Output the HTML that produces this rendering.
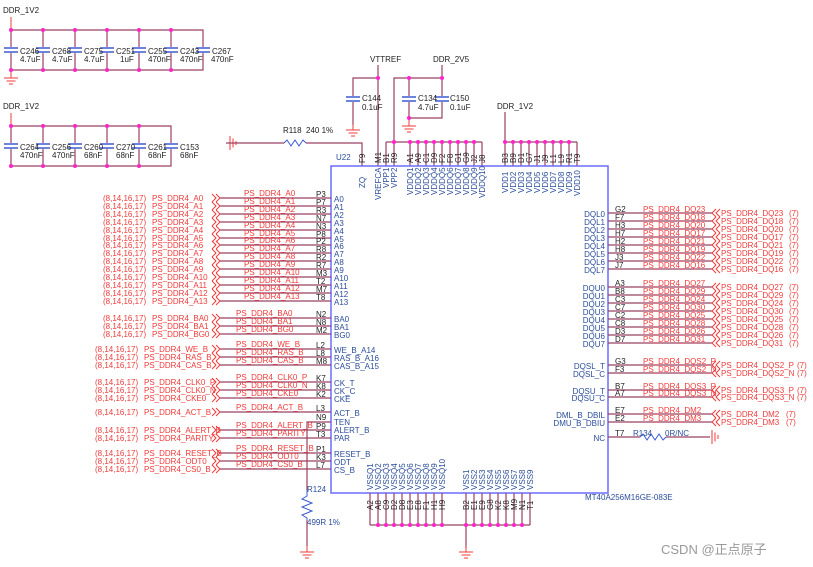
<!DOCTYPE html>
<html><head><meta charset="utf-8"><style>
body{margin:0;background:#fff}
svg{display:block;font-family:"Liberation Sans",Arial,sans-serif}
.r{fill:#f03a3a;font-size:8px}
.b{fill:#2b4d9a;font-size:8px}
.k{fill:#222;font-size:8px}
.w{stroke:#9b4060;stroke-width:1.2;fill:none}
.rs{stroke:#f03a3a;stroke-width:1;fill:none}
.bx{stroke:#6b6bff;stroke-width:1.5;fill:none}
.d{fill:#ff22cc}
.cp{stroke:#3a5ad0;stroke-width:1.5}
</style></head><body>
<svg width="813" height="567" viewBox="0 0 813 567">
<defs>
<g id="gnd"><line x1="0" y1="0" x2="0" y2="6" class="rs"/><line x1="-7" y1="6" x2="7" y2="6" class="rs"/><line x1="-4.5" y1="9" x2="4.5" y2="9" class="rs"/><line x1="-2" y1="12" x2="2" y2="12" class="rs"/></g>
<g id="chL"><polyline points="0,-4 4,0 0,4" class="rs"/><polyline points="4,-4 8,0 4,4" class="rs"/></g>
<g id="chR"><polyline points="8,-4 4,0 8,4" class="rs"/><polyline points="4,-4 0,0 4,4" class="rs"/></g>
<g id="cap"><line x1="-7" y1="-2" x2="7" y2="-2" class="cp"/><line x1="-7" y1="2" x2="7" y2="2" class="cp"/></g>
</defs>

<!-- top-left cap bank 1 -->
<text x="3" y="13" class="k">DDR_1V2</text>
<line x1="11" y1="17" x2="11" y2="30" class="rs"/>
<path d="M11 30H203V70H11Z" class="w"/>
<g class="w"><line x1="43" y1="30" x2="43" y2="70"/><line x1="75" y1="30" x2="75" y2="70"/><line x1="107" y1="30" x2="107" y2="70"/><line x1="139" y1="30" x2="139" y2="70"/><line x1="171" y1="30" x2="171" y2="70"/></g>
<g fill="#fff"><rect x="3" y="47" width="210" height="6"/></g>
<use href="#cap" x="11" y="50"/><use href="#cap" x="43" y="50"/><use href="#cap" x="75" y="50"/><use href="#cap" x="107" y="50"/><use href="#cap" x="139" y="50"/><use href="#cap" x="171" y="50"/><use href="#cap" x="203" y="50"/>
<g class="d"><circle cx="11" cy="30" r="2"/><circle cx="43" cy="30" r="2"/><circle cx="75" cy="30" r="2"/><circle cx="107" cy="30" r="2"/><circle cx="139" cy="30" r="2"/><circle cx="171" cy="30" r="2"/><circle cx="11" cy="70" r="2"/><circle cx="43" cy="70" r="2"/><circle cx="75" cy="70" r="2"/><circle cx="107" cy="70" r="2"/><circle cx="139" cy="70" r="2"/><circle cx="171" cy="70" r="2"/></g>
<g class="k"><text x="20" y="54">C246</text><text x="52" y="54">C268</text><text x="84" y="54">C275</text><text x="116" y="54">C251</text><text x="148" y="54">C255</text><text x="180" y="54">C243</text><text x="212" y="54">C267</text>
<text x="20" y="62">4.7uF</text><text x="52" y="62">4.7uF</text><text x="84" y="62">4.7uF</text><text x="120" y="62">1uF</text><text x="148" y="62">470nF</text><text x="180" y="62">470nF</text><text x="211" y="62">470nF</text></g>
<use href="#gnd" x="11" y="72"/>

<!-- cap bank 2 -->
<text x="3" y="109" class="k">DDR_1V2</text>
<line x1="11" y1="113" x2="11" y2="126" class="rs"/>
<path d="M11 126H171V166H11Z" class="w"/>
<g class="w"><line x1="43" y1="126" x2="43" y2="166"/><line x1="75" y1="126" x2="75" y2="166"/><line x1="107" y1="126" x2="107" y2="166"/><line x1="139" y1="126" x2="139" y2="166"/></g>
<rect x="3" y="143" width="175" height="6" fill="#fff"/>
<use href="#cap" x="11" y="146"/><use href="#cap" x="43" y="146"/><use href="#cap" x="75" y="146"/><use href="#cap" x="107" y="146"/><use href="#cap" x="139" y="146"/><use href="#cap" x="171" y="146"/>
<g class="d"><circle cx="11" cy="126" r="2"/><circle cx="43" cy="126" r="2"/><circle cx="75" cy="126" r="2"/><circle cx="107" cy="126" r="2"/><circle cx="139" cy="126" r="2"/><circle cx="11" cy="166" r="2"/><circle cx="43" cy="166" r="2"/><circle cx="75" cy="166" r="2"/><circle cx="107" cy="166" r="2"/><circle cx="139" cy="166" r="2"/></g>
<g class="k"><text x="20" y="150">C264</text><text x="52" y="150">C256</text><text x="84" y="150">C260</text><text x="116" y="150">C270</text><text x="148" y="150">C261</text><text x="180" y="150">C153</text>
<text x="20" y="158">470nF</text><text x="52" y="158">470nF</text><text x="84" y="158">68nF</text><text x="116" y="158">68nF</text><text x="148" y="158">68nF</text><text x="180" y="158">68nF</text></g>

<!-- R118 / ZQ -->
<g transform="translate(226,143) rotate(90)"><line x1="0" y1="0" x2="0" y2="-4" class="rs"/><line x1="-7" y1="-4" x2="7" y2="-4" class="rs"/><line x1="-4.5" y1="-7" x2="4.5" y2="-7" class="rs"/><line x1="-2" y1="-10" x2="2" y2="-10" class="rs"/></g>
<line x1="226" y1="143" x2="284" y2="143" class="w"/>
<polyline points="284,143 287,140 291,146 295,140 299,146 303,140 306,143" stroke="#3a5ad0" fill="none"/>
<polyline points="306,143 362,143 362,166" class="w"/>
<text x="283" y="133" class="k">R118</text><text x="306" y="133" class="k">240 1%</text>

<!-- VTTREF / C144 -->
<text x="370" y="62" class="k">VTTREF</text>
<line x1="378" y1="65" x2="378" y2="166" class="w"/>
<polyline points="378,78 353,78 353,125" class="w"/>
<rect x="347" y="96" width="12" height="6" fill="#fff"/>
<use href="#cap" x="353" y="99"/>
<use href="#gnd" x="353" y="124"/>
<text x="362" y="101" class="k">C144</text><text x="362" y="110" class="k">0.1uF</text>
<circle cx="378" cy="78" r="2" class="d"/>

<!-- DDR_2V5 -->
<text x="433" y="62" class="k">DDR_2V5</text>
<polyline points="442,65 442,118 409,118 409,78 394,78 394,166" class="w"/>
<line x1="409" y1="78" x2="442" y2="78" class="w"/>
<rect x="403" y="96" width="45" height="6" fill="#fff"/>
<use href="#cap" x="409" y="99"/><use href="#cap" x="442" y="99"/>
<use href="#gnd" x="409" y="120"/>
<text x="418" y="101" class="k">C134</text><text x="418" y="110" class="k">4.7uF</text>
<text x="450" y="101" class="k">C150</text><text x="450" y="110" class="k">0.1uF</text>
<g class="d"><circle cx="409" cy="78" r="2"/><circle cx="442" cy="78" r="2"/><circle cx="409" cy="118" r="2"/></g>

<!-- top buses -->
<line x1="394" y1="142" x2="482" y2="142" class="w"/>
<line x1="386" y1="142" x2="394" y2="142" class="w"/><line x1="386" y1="142" x2="386" y2="166" class="w"/>
<text x="497" y="109" class="k">DDR_1V2</text>
<line x1="505" y1="112" x2="505" y2="142" class="w"/>
<line x1="505" y1="142" x2="577" y2="142" class="w"/>
<g class="w">
<line x1="410" y1="142" x2="410" y2="166"/><line x1="418" y1="142" x2="418" y2="166"/><line x1="426" y1="142" x2="426" y2="166"/><line x1="434" y1="142" x2="434" y2="166"/><line x1="442" y1="142" x2="442" y2="166"/><line x1="450" y1="142" x2="450" y2="166"/><line x1="458" y1="142" x2="458" y2="166"/><line x1="466" y1="142" x2="466" y2="166"/><line x1="474" y1="142" x2="474" y2="166"/><line x1="482" y1="142" x2="482" y2="166"/>
<line x1="505" y1="142" x2="505" y2="166"/><line x1="513" y1="142" x2="513" y2="166"/><line x1="521" y1="142" x2="521" y2="166"/><line x1="529" y1="142" x2="529" y2="166"/><line x1="537" y1="142" x2="537" y2="166"/><line x1="545" y1="142" x2="545" y2="166"/><line x1="553" y1="142" x2="553" y2="166"/><line x1="561" y1="142" x2="561" y2="166"/><line x1="569" y1="142" x2="569" y2="166"/><line x1="577" y1="142" x2="577" y2="166"/>
</g>
<g class="d"><circle cx="394" cy="142" r="2"/><circle cx="410" cy="142" r="2"/><circle cx="418" cy="142" r="2"/><circle cx="426" cy="142" r="2"/><circle cx="434" cy="142" r="2"/><circle cx="442" cy="142" r="2"/><circle cx="450" cy="142" r="2"/><circle cx="458" cy="142" r="2"/><circle cx="466" cy="142" r="2"/><circle cx="474" cy="142" r="2"/><circle cx="505" cy="142" r="2"/><circle cx="513" cy="142" r="2"/><circle cx="521" cy="142" r="2"/><circle cx="529" cy="142" r="2"/><circle cx="537" cy="142" r="2"/><circle cx="545" cy="142" r="2"/><circle cx="553" cy="142" r="2"/><circle cx="561" cy="142" r="2"/><circle cx="569" cy="142" r="2"/></g>
<g class="k" font-size="7">
<text transform="translate(365,163) rotate(-90)">F9</text><text transform="translate(381,163) rotate(-90)">M1</text><text transform="translate(389,163) rotate(-90)">B1</text><text transform="translate(397,163) rotate(-90)">R9</text>
<text transform="translate(413,163) rotate(-90)">A1</text><text transform="translate(421,163) rotate(-90)">A9</text><text transform="translate(429,163) rotate(-90)">C1</text><text transform="translate(437,163) rotate(-90)">D9</text><text transform="translate(445,163) rotate(-90)">F2</text><text transform="translate(453,163) rotate(-90)">F8</text><text transform="translate(461,163) rotate(-90)">G1</text><text transform="translate(469,163) rotate(-90)">G9</text><text transform="translate(477,163) rotate(-90)">J2</text><text transform="translate(485,163) rotate(-90)">J8</text>
<text transform="translate(508,163) rotate(-90)">B3</text><text transform="translate(516,163) rotate(-90)">B9</text><text transform="translate(524,163) rotate(-90)">D1</text><text transform="translate(532,163) rotate(-90)">G7</text><text transform="translate(540,163) rotate(-90)">J1</text><text transform="translate(548,163) rotate(-90)">J9</text><text transform="translate(556,163) rotate(-90)">L1</text><text transform="translate(564,163) rotate(-90)">L9</text><text transform="translate(572,163) rotate(-90)">R1</text><text transform="translate(580,163) rotate(-90)">T9</text>
</g>
<text x="336" y="160" class="b">U22</text>

<!-- chip box -->
<rect x="331" y="166" width="277" height="327" class="bx"/>
<g class="b" font-size="7">
<text transform="translate(365,188) rotate(-90)">ZQ</text><text transform="translate(381,200) rotate(-90)">VREFCA</text><text transform="translate(389,188) rotate(-90)">VPP1</text><text transform="translate(397,188) rotate(-90)">VPP2</text>
<text transform="translate(413,195) rotate(-90)">VDDQ1</text><text transform="translate(421,195) rotate(-90)">VDDQ2</text><text transform="translate(429,195) rotate(-90)">VDDQ3</text><text transform="translate(437,195) rotate(-90)">VDDQ4</text><text transform="translate(445,195) rotate(-90)">VDDQ5</text><text transform="translate(453,195) rotate(-90)">VDDQ6</text><text transform="translate(461,195) rotate(-90)">VDDQ7</text><text transform="translate(469,195) rotate(-90)">VDDQ8</text><text transform="translate(477,195) rotate(-90)">VDDQ9</text><text transform="translate(485,198) rotate(-90)">VDDQ10</text>
<text transform="translate(508,193) rotate(-90)">VDD1</text><text transform="translate(516,193) rotate(-90)">VDD2</text><text transform="translate(524,193) rotate(-90)">VDD3</text><text transform="translate(532,193) rotate(-90)">VDD4</text><text transform="translate(540,193) rotate(-90)">VDD5</text><text transform="translate(548,193) rotate(-90)">VDD6</text><text transform="translate(556,193) rotate(-90)">VDD7</text><text transform="translate(564,193) rotate(-90)">VDD8</text><text transform="translate(572,193) rotate(-90)">VDD9</text><text transform="translate(580,196) rotate(-90)">VDD10</text>
<text transform="translate(373,490) rotate(-90)">VSSQ1</text><text transform="translate(381,490) rotate(-90)">VSSQ2</text><text transform="translate(389,490) rotate(-90)">VSSQ3</text><text transform="translate(397,490) rotate(-90)">VSSQ4</text><text transform="translate(405,490) rotate(-90)">VSSQ5</text><text transform="translate(413,490) rotate(-90)">VSSQ6</text><text transform="translate(421,490) rotate(-90)">VSSQ7</text><text transform="translate(429,490) rotate(-90)">VSSQ8</text><text transform="translate(437,490) rotate(-90)">VSSQ9</text><text transform="translate(445,490) rotate(-90)">VSSQ10</text>
<text transform="translate(469,490) rotate(-90)">VSS1</text><text transform="translate(477,490) rotate(-90)">VSS2</text><text transform="translate(485,490) rotate(-90)">VSS3</text><text transform="translate(493,490) rotate(-90)">VSS4</text><text transform="translate(501,490) rotate(-90)">VSS5</text><text transform="translate(509,490) rotate(-90)">VSS6</text><text transform="translate(517,490) rotate(-90)">VSS7</text><text transform="translate(525,490) rotate(-90)">VSS8</text><text transform="translate(533,490) rotate(-90)">VSS9</text>
</g>
<g class="w">
<line x1="370" y1="493" x2="370" y2="525"/><line x1="378" y1="493" x2="378" y2="525"/><line x1="386" y1="493" x2="386" y2="525"/><line x1="394" y1="493" x2="394" y2="525"/><line x1="402" y1="493" x2="402" y2="525"/><line x1="410" y1="493" x2="410" y2="525"/><line x1="418" y1="493" x2="418" y2="525"/><line x1="426" y1="493" x2="426" y2="525"/><line x1="434" y1="493" x2="434" y2="525"/><line x1="442" y1="493" x2="442" y2="525"/>
<line x1="466" y1="493" x2="466" y2="548"/><line x1="474" y1="493" x2="474" y2="525"/><line x1="482" y1="493" x2="482" y2="525"/><line x1="490" y1="493" x2="490" y2="525"/><line x1="498" y1="493" x2="498" y2="525"/><line x1="506" y1="493" x2="506" y2="525"/><line x1="514" y1="493" x2="514" y2="525"/><line x1="522" y1="493" x2="522" y2="525"/><line x1="530" y1="493" x2="530" y2="525"/>
<line x1="370" y1="525" x2="530" y2="525"/>
</g>
<g class="d"><circle cx="378" cy="525" r="2"/><circle cx="386" cy="525" r="2"/><circle cx="394" cy="525" r="2"/><circle cx="402" cy="525" r="2"/><circle cx="410" cy="525" r="2"/><circle cx="418" cy="525" r="2"/><circle cx="426" cy="525" r="2"/><circle cx="434" cy="525" r="2"/><circle cx="442" cy="525" r="2"/><circle cx="466" cy="525" r="2"/><circle cx="474" cy="525" r="2"/><circle cx="482" cy="525" r="2"/><circle cx="490" cy="525" r="2"/><circle cx="498" cy="525" r="2"/><circle cx="506" cy="525" r="2"/><circle cx="514" cy="525" r="2"/><circle cx="522" cy="525" r="2"/></g>
<g class="k" font-size="7">
<text transform="translate(373,510) rotate(-90)">A2</text><text transform="translate(381,510) rotate(-90)">A8</text><text transform="translate(389,510) rotate(-90)">C9</text><text transform="translate(397,510) rotate(-90)">D2</text><text transform="translate(405,510) rotate(-90)">D8</text><text transform="translate(413,510) rotate(-90)">E3</text><text transform="translate(421,510) rotate(-90)">E8</text><text transform="translate(429,510) rotate(-90)">F1</text><text transform="translate(437,510) rotate(-90)">H1</text><text transform="translate(445,510) rotate(-90)">H9</text>
<text transform="translate(469,510) rotate(-90)">B2</text><text transform="translate(477,510) rotate(-90)">E1</text><text transform="translate(485,510) rotate(-90)">E9</text><text transform="translate(493,510) rotate(-90)">G8</text><text transform="translate(501,510) rotate(-90)">K2</text><text transform="translate(509,510) rotate(-90)">K8</text><text transform="translate(517,510) rotate(-90)">M9</text><text transform="translate(525,510) rotate(-90)">N1</text><text transform="translate(533,510) rotate(-90)">T1</text>
</g>
<use href="#gnd" x="466" y="546"/>
<text x="585" y="500" class="b" font-size="7.5">MT40A256M16GE-083E</text>

<!-- TEN / R124 -->
<polyline points="331,422 307,422 307,490" class="w"/>
<polyline points="307,490 307,496 302,499 312,503 302,507 312,511 302,515 307,518 307,520" stroke="#3a5ad0" fill="none"/>
<line x1="307" y1="520" x2="307" y2="546" class="w"/>
<use href="#gnd" x="307" y="546"/>
<text x="307" y="492" class="b" font-size="7">R124</text><text x="307" y="525" class="b" font-size="7">499R 1%</text>
<text x="316" y="420" class="k" font-size="7.5">N9</text>

<!-- left signal rows -->
<g class="w">
<line x1="220" y1="198" x2="331" y2="198"/><line x1="220" y1="206" x2="331" y2="206"/><line x1="220" y1="214" x2="331" y2="214"/><line x1="220" y1="222" x2="331" y2="222"/><line x1="220" y1="230" x2="331" y2="230"/><line x1="220" y1="238" x2="331" y2="238"/><line x1="220" y1="245" x2="331" y2="245"/><line x1="220" y1="253" x2="331" y2="253"/><line x1="220" y1="261" x2="331" y2="261"/><line x1="220" y1="269" x2="331" y2="269"/><line x1="220" y1="277" x2="331" y2="277"/><line x1="220" y1="285" x2="331" y2="285"/><line x1="220" y1="293" x2="331" y2="293"/><line x1="220" y1="301" x2="331" y2="301"/>
<line x1="220" y1="318" x2="331" y2="318"/><line x1="220" y1="326" x2="331" y2="326"/><line x1="220" y1="334" x2="331" y2="334"/>
<line x1="220" y1="349" x2="331" y2="349"/><line x1="220" y1="357" x2="331" y2="357"/><line x1="220" y1="365" x2="331" y2="365"/>
<line x1="220" y1="382" x2="331" y2="382"/><line x1="220" y1="390" x2="331" y2="390"/><line x1="220" y1="398" x2="331" y2="398"/>
<line x1="220" y1="412" x2="331" y2="412"/>
<line x1="220" y1="430" x2="331" y2="430"/><line x1="220" y1="438" x2="331" y2="438"/>
<line x1="220" y1="453" x2="331" y2="453"/><line x1="220" y1="461" x2="331" y2="461"/><line x1="220" y1="469" x2="331" y2="469"/>
</g>
<g>
<use href="#chL" x="212" y="198"/><use href="#chL" x="212" y="206"/><use href="#chL" x="212" y="214"/><use href="#chL" x="212" y="222"/><use href="#chL" x="212" y="230"/><use href="#chL" x="212" y="238"/><use href="#chL" x="212" y="245"/><use href="#chL" x="212" y="253"/><use href="#chL" x="212" y="261"/><use href="#chL" x="212" y="269"/><use href="#chL" x="212" y="277"/><use href="#chL" x="212" y="285"/><use href="#chL" x="212" y="293"/><use href="#chL" x="212" y="301"/>
<use href="#chL" x="212" y="318"/><use href="#chL" x="212" y="326"/><use href="#chL" x="212" y="334"/>
<use href="#chL" x="212" y="349"/><use href="#chL" x="212" y="357"/><use href="#chL" x="212" y="365"/>
<use href="#chL" x="212" y="382"/><use href="#chL" x="212" y="390"/><use href="#chL" x="212" y="398"/>
<use href="#chL" x="212" y="412"/><use href="#chL" x="212" y="430"/><use href="#chL" x="212" y="438"/>
<use href="#chL" x="212" y="453"/><use href="#chL" x="212" y="461"/><use href="#chL" x="212" y="469"/>
</g>
<g class="r">
<text x="103" y="201">(8,14,16,17)</text><text x="152" y="201">PS_DDR4_A0</text>
<text x="103" y="209">(8,14,16,17)</text><text x="152" y="209">PS_DDR4_A1</text>
<text x="103" y="217">(8,14,16,17)</text><text x="152" y="217">PS_DDR4_A2</text>
<text x="103" y="225">(8,14,16,17)</text><text x="152" y="225">PS_DDR4_A3</text>
<text x="103" y="233">(8,14,16,17)</text><text x="152" y="233">PS_DDR4_A4</text>
<text x="103" y="241">(8,14,16,17)</text><text x="152" y="241">PS_DDR4_A5</text>
<text x="103" y="248">(8,14,16,17)</text><text x="152" y="248">PS_DDR4_A6</text>
<text x="103" y="256">(8,14,16,17)</text><text x="152" y="256">PS_DDR4_A7</text>
<text x="103" y="264">(8,14,16,17)</text><text x="152" y="264">PS_DDR4_A8</text>
<text x="103" y="272">(8,14,16,17)</text><text x="152" y="272">PS_DDR4_A9</text>
<text x="103" y="280">(8,14,16,17)</text><text x="152" y="280">PS_DDR4_A10</text>
<text x="103" y="288">(8,14,16,17)</text><text x="152" y="288">PS_DDR4_A11</text>
<text x="103" y="296">(8,14,16,17)</text><text x="152" y="296">PS_DDR4_A12</text>
<text x="103" y="304">(8,14,16,17)</text><text x="152" y="304">PS_DDR4_A13</text>
<text x="103" y="321">(8,14,16,17)</text><text x="152" y="321">PS_DDR4_BA0</text>
<text x="103" y="329">(8,14,16,17)</text><text x="152" y="329">PS_DDR4_BA1</text>
<text x="103" y="337">(8,14,16,17)</text><text x="152" y="337">PS_DDR4_BG0</text>
<text x="95" y="352">(8,14,16,17)</text><text x="144" y="352">PS_DDR4_WE_B</text>
<text x="95" y="360">(8,14,16,17)</text><text x="144" y="360">PS_DDR4_RAS_B</text>
<text x="95" y="368">(8,14,16,17)</text><text x="144" y="368">PS_DDR4_CAS_B</text>
<text x="95" y="385">(8,14,16,17)</text><text x="144" y="385">PS_DDR4_CLK0_P</text>
<text x="95" y="393">(8,14,16,17)</text><text x="144" y="393">PS_DDR4_CLK0_N</text>
<text x="95" y="401">(8,14,16,17)</text><text x="144" y="401">PS_DDR4_CKE0</text>
<text x="95" y="415">(8,14,16,17)</text><text x="144" y="415">PS_DDR4_ACT_B</text>
<text x="95" y="433">(8,14,16,17)</text><text x="144" y="433">PS_DDR4_ALERT_B</text>
<text x="95" y="441">(8,14,16,17)</text><text x="144" y="441">PS_DDR4_PARITY</text>
<text x="95" y="456">(8,14,16,17)</text><text x="144" y="456">PS_DDR4_RESET_B</text>
<text x="95" y="464">(8,14,16,17)</text><text x="144" y="464">PS_DDR4_ODT0</text>
<text x="95" y="472">(8,14,16,17)</text><text x="144" y="472">PS_DDR4_CS0_B</text>
<text x="244" y="196">PS_DDR4_A0</text><text x="244" y="204">PS_DDR4_A1</text><text x="244" y="212">PS_DDR4_A2</text><text x="244" y="220">PS_DDR4_A3</text><text x="244" y="228">PS_DDR4_A4</text><text x="244" y="236">PS_DDR4_A5</text><text x="244" y="243">PS_DDR4_A6</text><text x="244" y="251">PS_DDR4_A7</text><text x="244" y="259">PS_DDR4_A8</text><text x="244" y="267">PS_DDR4_A9</text><text x="244" y="275">PS_DDR4_A10</text><text x="244" y="283">PS_DDR4_A11</text><text x="244" y="291">PS_DDR4_A12</text><text x="244" y="299">PS_DDR4_A13</text>
<text x="236" y="316">PS_DDR4_BA0</text><text x="236" y="324">PS_DDR4_BA1</text><text x="236" y="332">PS_DDR4_BG0</text>
<text x="236" y="347">PS_DDR4_WE_B</text><text x="236" y="355">PS_DDR4_RAS_B</text><text x="236" y="363">PS_DDR4_CAS_B</text>
<text x="236" y="380">PS_DDR4_CLK0_P</text><text x="236" y="388">PS_DDR4_CLK0_N</text><text x="236" y="396">PS_DDR4_CKE0</text>
<text x="236" y="410">PS_DDR4_ACT_B</text>
<text x="236" y="428">PS_DDR4_ALERT_B</text><text x="236" y="436">PS_DDR4_PARITY</text>
<text x="236" y="451">PS_DDR4_RESET_B</text><text x="236" y="459">PS_DDR4_ODT0</text><text x="236" y="467">PS_DDR4_CS0_B</text>
</g>
<g class="k" font-size="7.5">
<text x="316" y="197">P3</text><text x="316" y="205">P7</text><text x="316" y="213">R3</text><text x="316" y="221">N7</text><text x="316" y="229">N3</text><text x="316" y="237">P8</text><text x="316" y="244">P2</text><text x="316" y="252">R8</text><text x="316" y="260">R2</text><text x="316" y="268">R7</text><text x="316" y="276">M3</text><text x="316" y="284">T2</text><text x="316" y="292">M7</text><text x="316" y="300">T8</text>
<text x="316" y="317">N2</text><text x="316" y="325">N8</text><text x="316" y="333">M2</text>
<text x="316" y="348">L2</text><text x="316" y="356">L8</text><text x="316" y="364">M8</text>
<text x="316" y="381">K7</text><text x="316" y="389">K8</text><text x="316" y="397">K2</text>
<text x="316" y="411">L3</text><text x="316" y="429">P9</text><text x="316" y="437">T3</text>
<text x="316" y="452">P1</text><text x="316" y="460">K3</text><text x="316" y="468">L7</text>
</g>
<g class="b">
<text x="334" y="202">A0</text><text x="334" y="210">A1</text><text x="334" y="218">A2</text><text x="334" y="226">A3</text><text x="334" y="234">A4</text><text x="334" y="242">A5</text><text x="334" y="249">A6</text><text x="334" y="257">A7</text><text x="334" y="265">A8</text><text x="334" y="273">A9</text><text x="334" y="281">A10</text><text x="334" y="289">A11</text><text x="334" y="297">A12</text><text x="334" y="305">A13</text>
<text x="334" y="322">BA0</text><text x="334" y="330">BA1</text><text x="334" y="338">BG0</text>
<text x="334" y="353">WE_B_A14</text><text x="334" y="361">RAS_B_A16</text><text x="334" y="369">CAS_B_A15</text>
<text x="334" y="386">CK_T</text><text x="334" y="394">CK_C</text><text x="334" y="402">CKE</text>
<text x="334" y="416">ACT_B</text><text x="334" y="425">TEN</text><text x="334" y="433">ALERT_B</text><text x="334" y="441">PAR</text>
<text x="334" y="457">RESET_B</text><text x="334" y="465">ODT</text><text x="334" y="473">CS_B</text>
</g>

<!-- right rows -->
<g class="w">
<line x1="608" y1="213" x2="712" y2="213"/><line x1="608" y1="221" x2="712" y2="221"/><line x1="608" y1="229" x2="712" y2="229"/><line x1="608" y1="237" x2="712" y2="237"/><line x1="608" y1="245" x2="712" y2="245"/><line x1="608" y1="253" x2="712" y2="253"/><line x1="608" y1="261" x2="712" y2="261"/><line x1="608" y1="269" x2="712" y2="269"/>
<line x1="608" y1="287" x2="712" y2="287"/><line x1="608" y1="295" x2="712" y2="295"/><line x1="608" y1="303" x2="712" y2="303"/><line x1="608" y1="311" x2="712" y2="311"/><line x1="608" y1="319" x2="712" y2="319"/><line x1="608" y1="327" x2="712" y2="327"/><line x1="608" y1="335" x2="712" y2="335"/><line x1="608" y1="343" x2="712" y2="343"/>
<line x1="608" y1="365" x2="712" y2="365"/><line x1="608" y1="373" x2="712" y2="373"/><line x1="608" y1="390" x2="712" y2="390"/><line x1="608" y1="397" x2="712" y2="397"/><line x1="608" y1="414" x2="712" y2="414"/><line x1="608" y1="422" x2="712" y2="422"/>
<line x1="608" y1="437" x2="640" y2="437"/><line x1="666" y1="437" x2="710" y2="437"/>
</g>
<polyline points="640,437 643,434 647,440 651,434 655,440 659,434 663,440 666,437" stroke="#3a5ad0" fill="none"/>
<g transform="translate(712,437)"><line x1="0" y1="-7" x2="0" y2="7" class="rs"/><line x1="3" y1="-4.5" x2="3" y2="4.5" class="rs"/><line x1="6" y1="-2" x2="6" y2="2" class="rs"/></g>
<g>
<use href="#chR" x="712" y="213"/><use href="#chR" x="712" y="221"/><use href="#chR" x="712" y="229"/><use href="#chR" x="712" y="237"/><use href="#chR" x="712" y="245"/><use href="#chR" x="712" y="253"/><use href="#chR" x="712" y="261"/><use href="#chR" x="712" y="269"/>
<use href="#chR" x="712" y="287"/><use href="#chR" x="712" y="295"/><use href="#chR" x="712" y="303"/><use href="#chR" x="712" y="311"/><use href="#chR" x="712" y="319"/><use href="#chR" x="712" y="327"/><use href="#chR" x="712" y="335"/><use href="#chR" x="712" y="343"/>
<use href="#chR" x="712" y="365"/><use href="#chR" x="712" y="373"/><use href="#chR" x="712" y="390"/><use href="#chR" x="712" y="397"/><use href="#chR" x="712" y="414"/><use href="#chR" x="712" y="422"/>
</g>
<g class="b" text-anchor="end">
<text x="605" y="217">DQL0</text><text x="605" y="225">DQL1</text><text x="605" y="233">DQL2</text><text x="605" y="241">DQL3</text><text x="605" y="249">DQL4</text><text x="605" y="257">DQL5</text><text x="605" y="265">DQL6</text><text x="605" y="273">DQL7</text>
<text x="605" y="291">DQU0</text><text x="605" y="299">DQU1</text><text x="605" y="307">DQU2</text><text x="605" y="315">DQU3</text><text x="605" y="323">DQU4</text><text x="605" y="331">DQU5</text><text x="605" y="339">DQU6</text><text x="605" y="347">DQU7</text>
<text x="605" y="369">DQSL_T</text><text x="605" y="377">DQSL_C</text><text x="605" y="394">DQSU_T</text><text x="605" y="401">DQSU_C</text>
<text x="605" y="418">DML_B_DBIL</text><text x="605" y="426">DMU_B_DBIU</text><text x="605" y="441">NC</text>
</g>
<g class="k" font-size="7.5">
<text x="615" y="212">G2</text><text x="615" y="220">F7</text><text x="615" y="228">H3</text><text x="615" y="236">H7</text><text x="615" y="244">H2</text><text x="615" y="252">H8</text><text x="615" y="260">J3</text><text x="615" y="268">J7</text>
<text x="615" y="286">A3</text><text x="615" y="294">B8</text><text x="615" y="302">C3</text><text x="615" y="310">C7</text><text x="615" y="318">C2</text><text x="615" y="326">C8</text><text x="615" y="334">D3</text><text x="615" y="342">D7</text>
<text x="615" y="364">G3</text><text x="615" y="372">F3</text><text x="615" y="389">B7</text><text x="615" y="396">A7</text><text x="615" y="413">E7</text><text x="615" y="421">E2</text><text x="615" y="436">T7</text>
</g>
<text x="633" y="436" class="b" font-size="7">R134</text><text x="665" y="436" class="b" font-size="7">0R/NC</text>
<g class="r">
<text x="643" y="212">PS_DDR4_DQ23</text><text x="643" y="220">PS_DDR4_DQ18</text><text x="643" y="228">PS_DDR4_DQ20</text><text x="643" y="236">PS_DDR4_DQ17</text><text x="643" y="244">PS_DDR4_DQ21</text><text x="643" y="252">PS_DDR4_DQ19</text><text x="643" y="260">PS_DDR4_DQ22</text><text x="643" y="268">PS_DDR4_DQ16</text>
<text x="643" y="286">PS_DDR4_DQ27</text><text x="643" y="294">PS_DDR4_DQ29</text><text x="643" y="302">PS_DDR4_DQ24</text><text x="643" y="310">PS_DDR4_DQ30</text><text x="643" y="318">PS_DDR4_DQ25</text><text x="643" y="326">PS_DDR4_DQ28</text><text x="643" y="334">PS_DDR4_DQ26</text><text x="643" y="342">PS_DDR4_DQ31</text>
<text x="643" y="364">PS_DDR4_DQS2_P</text><text x="643" y="372">PS_DDR4_DQS2_N</text><text x="643" y="389">PS_DDR4_DQS3_P</text><text x="643" y="396">PS_DDR4_DQS3_N</text><text x="643" y="413">PS_DDR4_DM2</text><text x="643" y="421">PS_DDR4_DM3</text>
</g>
<g class="r" font-size="7.6">
<text x="721" y="216">PS_DDR4_DQ23</text><text x="721" y="224">PS_DDR4_DQ18</text><text x="721" y="232">PS_DDR4_DQ20</text><text x="721" y="240">PS_DDR4_DQ17</text><text x="721" y="248">PS_DDR4_DQ21</text><text x="721" y="256">PS_DDR4_DQ19</text><text x="721" y="264">PS_DDR4_DQ22</text><text x="721" y="272">PS_DDR4_DQ16</text>
<text x="721" y="290">PS_DDR4_DQ27</text><text x="721" y="298">PS_DDR4_DQ29</text><text x="721" y="306">PS_DDR4_DQ24</text><text x="721" y="314">PS_DDR4_DQ30</text><text x="721" y="322">PS_DDR4_DQ25</text><text x="721" y="330">PS_DDR4_DQ28</text><text x="721" y="338">PS_DDR4_DQ26</text><text x="721" y="346">PS_DDR4_DQ31</text>
<text x="721" y="368">PS_DDR4_DQS2_P</text><text x="721" y="376">PS_DDR4_DQS2_N</text><text x="721" y="393">PS_DDR4_DQS3_P</text><text x="721" y="400">PS_DDR4_DQS3_N</text><text x="721" y="417">PS_DDR4_DM2</text><text x="721" y="425">PS_DDR4_DM3</text>
<text x="789" y="216">(7)</text><text x="789" y="224">(7)</text><text x="789" y="232">(7)</text><text x="789" y="240">(7)</text><text x="789" y="248">(7)</text><text x="789" y="256">(7)</text><text x="789" y="264">(7)</text><text x="789" y="272">(7)</text>
<text x="789" y="290">(7)</text><text x="789" y="298">(7)</text><text x="789" y="306">(7)</text><text x="789" y="314">(7)</text><text x="789" y="322">(7)</text><text x="789" y="330">(7)</text><text x="789" y="338">(7)</text><text x="789" y="346">(7)</text>
<text x="797" y="368">(7)</text><text x="797" y="376">(7)</text><text x="797" y="393">(7)</text><text x="797" y="400">(7)</text><text x="786" y="417">(7)</text><text x="786" y="425">(7)</text>
</g>

<text x="661" y="554" fill="#999" font-size="13" font-family="'Liberation Sans','Noto Sans CJK SC',sans-serif">CSDN @正点原子</text>
</svg>
</body></html>
